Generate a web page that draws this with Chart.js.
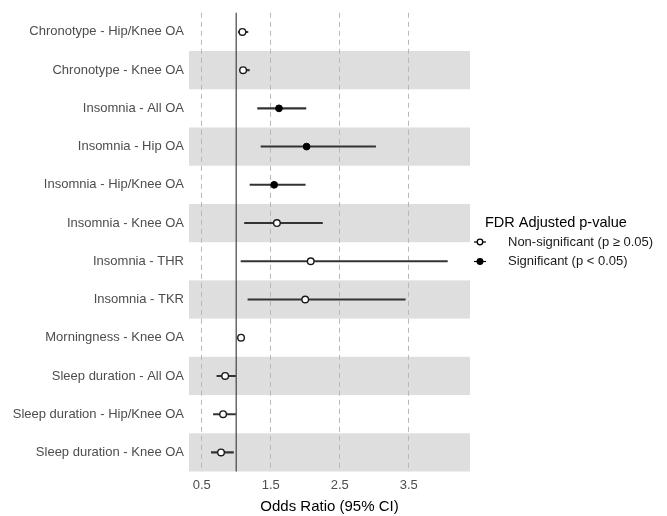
<!DOCTYPE html>
<html>
<head>
<meta charset="utf-8">
<script src="https://cdn.jsdelivr.net/npm/chart.js@4/dist/chart.umd.min.js"></script>
<style>
    body { margin: 0; background: #fff; }
    canvas { display: block; }
</style>
</head>
<body>
<canvas id="forest-chart" width="667" height="516"></canvas>
<script>
// data
const rowLabels = [
    "Chronotype - Hip/Knee OA",
    "Chronotype - Knee OA",
    "Insomnia - All OA",
    "Insomnia - Hip OA",
    "Insomnia - Hip/Knee OA",
    "Insomnia - Knee OA",
    "Insomnia - THR",
    "Insomnia - TKR",
    "Morningness - Knee OA",
    "Sleep duration - All OA",
    "Sleep duration - Hip/Knee OA",
    "Sleep duration - Knee OA"
];
const oddsRatio = [1.09, 1.10, 1.62, 2.02, 1.55, 1.59, 2.08, 2.00, 1.07, 0.84, 0.81, 0.78];
const ciLow = [1.03, 1.05, 1.31, 1.36, 1.20, 1.12, 1.07, 1.17, 1.02, 0.72, 0.67, 0.64];
const ciHigh = [1.17, 1.19, 2.01, 3.02, 2.00, 2.25, 4.06, 3.45, 1.12, 0.99, 0.99, 0.96];
const significant = [false, false, true, true, true, false, false, false, false, false, false, false];
const xTicks = [0.5, 1.5, 2.5, 3.5];
const legendTitle = "FDR Adjusted p-value";
const legendItems = ["Non-significant (p \u2265 0.05)", "Significant (p < 0.05)"];

const FONT = "'Liberation Sans', Arial, sans-serif";

function pointsFor(flag) {
    let pts = [];
    for (let i = 0; i < rowLabels.length; i++) {
        if (significant[i] == flag) {
            pts.push({ x: oddsRatio[i], y: rowLabels[i] });
        }
    }
    return pts;
}

const panelPlugin = {
    id: "panel",
    beforeDraw(chart) {
        const ctx = chart.ctx;
        const area = chart.chartArea;
        const y = chart.scales.y;
        const band = (y.getPixelForValue(1) - y.getPixelForValue(0));
        ctx.save();
        ctx.fillStyle = "#dedede";
        for (let i = 1; i < rowLabels.length; i += 2) {
            let c = y.getPixelForValue(i);
            ctx.fillRect(area.left, c - band / 2, area.right - area.left, band);
        }
        ctx.restore();
    },
    beforeDatasetsDraw(chart) {
        const ctx = chart.ctx;
        const area = chart.chartArea;
        const px = chart.scales.x.getPixelForValue(1);
        ctx.save();
        ctx.strokeStyle = "#444";
        ctx.lineWidth = 1.2;
        ctx.beginPath();
        ctx.moveTo(px, area.top);
        ctx.lineTo(px, area.bottom);
        ctx.stroke();
        ctx.restore();
    },
    afterDraw(chart) {
        const ctx = chart.ctx;
        ctx.save();
        ctx.fillStyle = "#000";
        ctx.textBaseline = "middle";
        ctx.font = "14.5px " + FONT;
        ctx.fillText(legendTitle, 485, 223);
        ctx.font = "13px " + FONT;
        for (let i = 0; i < legendItems.length; i++) {
            let cy = 242 + i * 19.5;
            ctx.strokeStyle = "#000";
            ctx.lineWidth = 1.2;
            ctx.beginPath();
            ctx.moveTo(474, cy);
            ctx.lineTo(486, cy);
            ctx.stroke();
            ctx.beginPath();
            ctx.arc(480, cy, 2.8, 0, Math.PI * 2);
            ctx.fillStyle = i == 0 ? "#fff" : "#000";
            ctx.fill();
            ctx.lineWidth = 1.3;
            ctx.stroke();
            ctx.fillStyle = "#1a1a1a";
            ctx.fillText(legendItems[i], 508, cy);
        }
        ctx.restore();
    }
};

new Chart(document.getElementById("forest-chart"), {
    type: "bar",
    data: {
        labels: rowLabels,
        datasets: [
            {
                type: "line",
                label: legendItems[0],
                data: pointsFor(false),
                showLine: false,
                pointStyle: "circle",
                pointRadius: 3.3,
                pointBackgroundColor: "#fff",
                pointBorderColor: "#1a1a1a",
                pointBorderWidth: 1.4,
            },
            {
                type: "line",
                label: legendItems[1],
                data: pointsFor(true),
                showLine: false,
                pointStyle: "circle",
                pointRadius: 3.4,
                pointBackgroundColor: "#000",
                pointBorderColor: "#000",
                pointBorderWidth: 1,
            },
            {
                type: "bar",
                label: "95% CI",
                data: ciLow.map((lo, i) => [lo, ciHigh[i]]),
                backgroundColor: "#333",
                borderWidth: 0,
                barThickness: 1.4,
            },
        ],
    },
    options: {
        responsive: false,
        animation: false,
        indexAxis: "y",
        layout: { padding: { top: 11, right: 197, left: 0, bottom: 0 } },
        plugins: {
            legend: { display: false },
            tooltip: { enabled: false },
        },
        scales: {
            x: {
                type: "linear",
                min: 0.316,
                max: 4.388,
                afterBuildTicks: (s) => {
                    s.ticks = xTicks.map((v) => ({ value: v }));
                },
                afterFit: (s) => {
                    s.height = 44.5;
                },
                grid: { color: "#b8b8b8", lineWidth: 1, drawTicks: false },
                border: { display: false, dash: [5, 4] },
                ticks: {
                    color: "#4d4d4d",
                    font: { family: FONT, size: 13 },
                    padding: 6,
                    callback: (v) => v.toFixed(1),
                },
                title: {
                    display: true,
                    text: "Odds Ratio (95% CI)",
                    color: "#000",
                    font: { family: FONT, size: 15 },
                    padding: { top: 2, bottom: 0 },
                },
            },
            y: {
                type: "category",
                offset: true,
                afterFit: (s) => {
                    s.width = 189;
                },
                grid: { display: false, drawTicks: false },
                border: { display: false },
                ticks: {
                    color: "#4d4d4d",
                    font: { family: FONT, size: 13 },
                    padding: 5,
                },
            },
        },
    },
    plugins: [panelPlugin],
});
</script>
</body>
</html>
